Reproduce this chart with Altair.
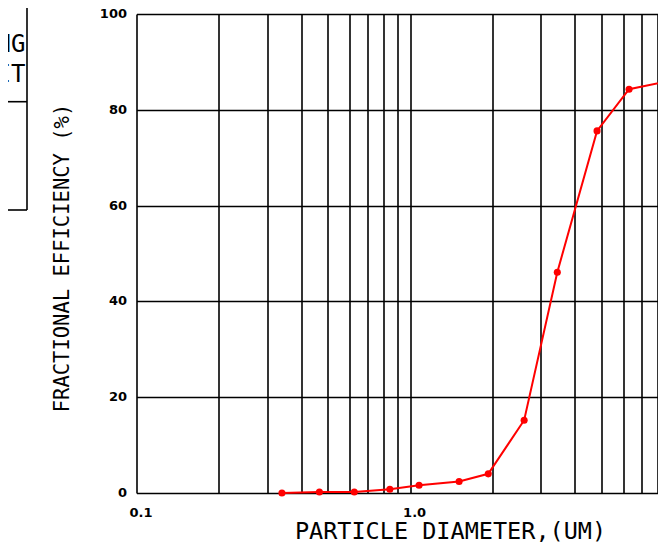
import altair as alt
import pandas as pd

# ---- data ----
diameter_um = [0.340, 0.466, 0.625, 0.843, 1.078, 1.51, 1.93, 2.61, 3.45, 4.82, 6.31, 9.0]
efficiency_pct = [0.0, 0.2, 0.2, 0.8, 1.6, 2.4, 4.0, 15.2, 46.1, 75.6, 84.3, 86.1]

x_grid_values = [0.1, 0.2, 0.3, 0.4, 0.5, 0.6, 0.7, 0.8, 0.9, 1, 2, 3, 4, 5, 6, 7, 8]
y_tick_values = [0, 20, 40, 60, 80, 100]
x_domain = [0.1, 8.05]
y_domain = [0, 100]

x_title = "PARTICLE DIAMETER,(UM)"
y_title = "FRACTIONAL EFFICIENCY (%)"
box_text = ["NG", "IT"]

df = pd.DataFrame({"d": diameter_um, "e": efficiency_pct})
one = pd.DataFrame({"k": [0]})

x_enc = alt.X(
    "d:Q",
    scale=alt.Scale(type="log", domain=x_domain, nice=False),
    axis=alt.Axis(
        values=x_grid_values,
        labelExpr="datum.value == 0.1 ? '0.1' : (datum.value == 1 ? '1.0' : '')",
        labelFlush=False,
        labelOverlap=False,
        labelOffset=4,
        labelPadding=13,
        title=x_title,
        titleFontSize=23.5,
        titleX=313.5,
        titleY=45.5,
        titleBaseline="alphabetic",
        titleAlign="center",
    ),
)
y_enc = alt.Y(
    "e:Q",
    scale=alt.Scale(domain=y_domain, nice=False),
    axis=alt.Axis(
        values=y_tick_values,
        labelPadding=10,
        labelOffset=-0.5,
        title=y_title,
        titleFontSize=20.5,
        titleAngle=270,
        titleX=-68.5,
        titleY=243.5,
        titleBaseline="alphabetic",
        titleAlign="center",
    ),
)

line = alt.Chart(df).mark_line(color="#ff0000", strokeWidth=2).encode(x=x_enc, y=y_enc)
pts = alt.Chart(df).mark_point(filled=True, color="#ff0000", size=50, opacity=1).encode(
    x=alt.X("d:Q"), y=alt.Y("e:Q")
)

# partial table box at the left edge
vline = alt.Chart(one).mark_rule(color="black", strokeWidth=1.6).encode(
    x=alt.value(-109.5), y=alt.value(-14), y2=alt.value(196)
)
hline1 = alt.Chart(one).mark_rule(color="black", strokeWidth=1.6).encode(
    x=alt.value(-140), x2=alt.value(-109.5), y=alt.value(87.7)
)
hline2 = alt.Chart(one).mark_rule(color="black", strokeWidth=1.6).encode(
    x=alt.value(-140), x2=alt.value(-109.5), y=alt.value(196)
)
t1 = alt.Chart(one).mark_text(
    font="DejaVu Sans Mono", fontSize=24, align="right", baseline="alphabetic", color="black"
).encode(x=alt.value(-111), y=alt.value(38), text=alt.value(box_text[0]))
t2 = alt.Chart(one).mark_text(
    font="DejaVu Sans Mono", fontSize=24, align="right", baseline="alphabetic", color="black"
).encode(x=alt.value(-111), y=alt.value(68), text=alt.value(box_text[1]))

chart = (
    alt.layer(line, pts, vline, hline1, hline2, t1, t2)
    .properties(
        width=521.5,
        height=479,
        autosize=alt.AutoSizeParams(type="none"),
        padding={"left": 128.5, "top": 6, "right": 0, "bottom": 51},
        background="white",
    )
    .configure_view(strokeWidth=0)
    .configure_axis(
        labelFont="DejaVu Sans",
        labelFontWeight="bold",
        labelFontSize=13,
        labelColor="black",
        titleFont="DejaVu Sans Mono",
        titleFontWeight="normal",
        titleColor="black",
        gridColor="black",
        gridWidth=1.6,
        gridOpacity=1,
        domain=False,
        ticks=False,
    )
)

chart.save("out.html", embed_options={"renderer": "svg", "actions": False})
